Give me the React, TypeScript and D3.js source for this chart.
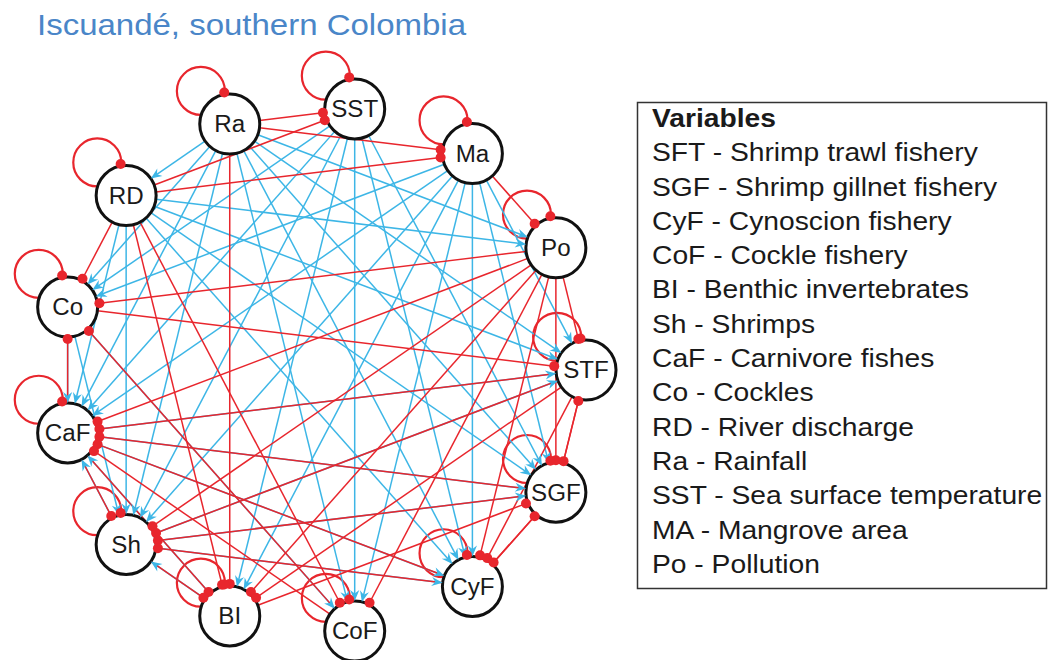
import * as d3 from 'd3';

// nodes in order around the circle, starting at the right and going counter-clockwise
const NODES = ['STF', 'Po', 'Ma', 'SST', 'Ra', 'RD', 'Co', 'CaF', 'Sh', 'BI', 'CoF', 'CyF', 'SGF'];

// positive effects (blue arrows)
const POS_EDGES: [string, string][] = [
  ['Ra', 'RD'], ['Ra', 'Co'], ['Ra', 'CaF'], ['Ra', 'Sh'], ['Ra', 'CoF'], ['Ra', 'CyF'], ['Ra', 'SGF'], ['Ra', 'STF'], ['Ra', 'Po'],
  ['RD', 'CaF'], ['RD', 'Sh'], ['RD', 'SGF'], ['RD', 'CyF'], ['RD', 'STF'], ['RD', 'Po'],
  ['SST', 'Co'], ['SST', 'CaF'], ['SST', 'Sh'], ['SST', 'BI'], ['SST', 'CoF'], ['SST', 'CyF'], ['SST', 'SGF'],
  ['Ma', 'Co'], ['Ma', 'CaF'], ['Ma', 'Sh'], ['Ma', 'BI'], ['Ma', 'CoF'], ['Ma', 'CyF'], ['Ma', 'SGF'], ['Ma', 'STF'],
  ['Co', 'CaF'], ['Co', 'CoF'], ['Co', 'Sh'],
  ['Sh', 'CaF'], ['Sh', 'STF'], ['Sh', 'SGF'], ['Sh', 'CyF'],
  ['BI', 'CaF'], ['BI', 'Sh'],
  ['CaF', 'CyF'], ['CaF', 'SGF'], ['CaF', 'STF'],
];

// negative effects (red dots)
const NEG_EDGES: [string, string][] = [
  ['Ra', 'SST'], ['Ra', 'Ma'], ['Ra', 'BI'],
  ['RD', 'SST'], ['RD', 'Ma'], ['RD', 'Co'], ['RD', 'BI'], ['RD', 'CoF'],
  ['Ma', 'Po'],
  ['Po', 'Co'], ['Po', 'CaF'], ['Po', 'Sh'], ['Po', 'BI'], ['Po', 'CoF'], ['Po', 'CyF'], ['Po', 'SGF'], ['Po', 'STF'],
  ['CaF', 'Co'], ['CaF', 'Sh'], ['CaF', 'BI'],
  ['Sh', 'BI'],
  ['STF', 'Sh'], ['STF', 'CaF'], ['STF', 'BI'], ['STF', 'SGF'], ['STF', 'CyF'],
  ['SGF', 'Sh'], ['SGF', 'CaF'], ['SGF', 'STF'], ['SGF', 'CyF'],
  ['CyF', 'CaF'], ['CyF', 'Sh'], ['CyF', 'SGF'],
  ['CoF', 'Co'], ['CoF', 'CaF'],
  ['Co', 'STF'], ['BI', 'SGF'],
];

const LEGEND_TITLE = 'Variables';
const LEGEND_ITEMS = [
  'SFT - Shrimp trawl fishery',
  'SGF - Shrimp gillnet fishery',
  'CyF - Cynoscion fishery',
  'CoF - Cockle fishery',
  'BI - Benthic invertebrates',
  'Sh - Shrimps',
  'CaF - Carnivore fishes',
  'Co - Cockles',
  'RD - River discharge',
  'Ra - Rainfall',
  'SST - Sea surface temperature',
  'MA - Mangrove area',
  'Po - Pollution',
];

const TITLE = 'Iscuandé, southern Colombia';

const RED = '#e8262d';
const BLUE = '#3db6e6';
const FONT = '"Liberation Sans", Arial, sans-serif';

export default function App() {
  const cx = 323;
  const cy = 370;
  const R = 263;
  const nodeR = 30;

  const angle = d3.scaleLinear().domain([0, NODES.length]).range([0, -2 * Math.PI]);
  const pos = new Map(
    NODES.map((n, i) => [n, { x: cx + R * Math.cos(angle(i)), y: cy + R * Math.sin(angle(i)) }])
  );

  const geom = (s: string, t: string) => {
    const a = pos.get(s)!;
    const b = pos.get(t)!;
    const dx = b.x - a.x;
    const dy = b.y - a.y;
    const len = Math.hypot(dx, dy);
    const ux = dx / len;
    const uy = dy / len;
    return {
      x1: a.x + ux * nodeR, y1: a.y + uy * nodeR,
      x2: b.x - ux * nodeR, y2: b.y - uy * nodeR,
      ux, uy,
    };
  };

  // self loops: circle up-left of node, dot where it meets the top of the node
  const loopD = 44;
  const loopR = 24;
  const loopAng = (-131 * Math.PI) / 180;
  const la = (loopD * loopD + nodeR * nodeR - loopR * loopR) / (2 * loopD);
  const lh = Math.sqrt(nodeR * nodeR - la * la);
  const lu = [Math.cos(loopAng), Math.sin(loopAng)];
  const lp = [-lu[1], lu[0]];

  const line = d3.line();

  return (
    <svg width={1051} height={660} style={{ position: 'absolute', left: 0, top: 0, background: '#fff' }}>
      <text transform="translate(37,35) scale(1.1,1)" fontFamily={FONT} fontSize={30} fill="#4a86c8">{TITLE}</text>

      {/* loops */}
      {NODES.map(n => {
        const p = pos.get(n)!;
        return (
          <circle key={'l' + n} cx={p.x + lu[0] * loopD} cy={p.y + lu[1] * loopD} r={loopR}
            fill="none" stroke={RED} strokeWidth={2.2} />
        );
      })}

      {/* edges */}
      {POS_EDGES.map(([s, t], i) => {
        const g = geom(s, t);
        return (
          <path key={'p' + i} d={line([[g.x1, g.y1], [g.x2 - g.ux * 6, g.y2 - g.uy * 6]]) ?? ''}
            stroke={BLUE} strokeWidth={1.5} fill="none" />
        );
      })}
      {NEG_EDGES.map(([s, t], i) => {
        const g = geom(s, t);
        return (
          <path key={'n' + i} d={line([[g.x1, g.y1], [g.x2, g.y2]]) ?? ''}
            stroke={RED} strokeWidth={1.5} fill="none" />
        );
      })}

      {/* nodes */}
      {NODES.map(n => {
        const p = pos.get(n)!;
        return (
          <g key={'n' + n}>
            <circle cx={p.x} cy={p.y} r={nodeR} fill="#fff" stroke="#111" strokeWidth={3} />
            <text transform={`translate(${p.x},${p.y}) scale(1.05,1)`} textAnchor="middle" dy="0.36em"
              fontFamily={FONT} fontSize={23} fill="#1a1a1a">{n}</text>
          </g>
        );
      })}

      {/* arrow heads */}
      {POS_EDGES.map(([s, t], i) => {
        const g = geom(s, t);
        const px = -g.uy;
        const py = g.ux;
        const pts = [
          [g.x2, g.y2],
          [g.x2 - g.ux * 11 + px * 4.6, g.y2 - g.uy * 11 + py * 4.6],
          [g.x2 - g.ux * 7.5, g.y2 - g.uy * 7.5],
          [g.x2 - g.ux * 11 - px * 4.6, g.y2 - g.uy * 11 - py * 4.6],
        ];
        return <polygon key={'a' + i} points={pts.map(q => q.join(',')).join(' ')} fill={BLUE} />;
      })}
      {NEG_EDGES.map(([s, t], i) => {
        const g = geom(s, t);
        return <circle key={'d' + i} cx={g.x2 - g.ux * 2} cy={g.y2 - g.uy * 2} r={5} fill={RED} />;
      })}
      {NODES.map(n => {
        const p = pos.get(n)!;
        const x = p.x + lu[0] * la + lp[0] * lh;
        const y = p.y + lu[1] * la + lp[1] * lh;
        const ox = (x - p.x) / nodeR;
        const oy = (y - p.y) / nodeR;
        return <circle key={'ld' + n} cx={x + ox * 2} cy={y + oy * 2} r={5} fill={RED} />;
      })}

      {/* legend */}
      <rect x={637.5} y={102.5} width={409} height={486} fill="none" stroke="#333" strokeWidth={1.5} />
      <g transform="translate(652,0) scale(1.13,1)" fontFamily={FONT} fontSize={25} fill="#1a1a1a">
        <text x={0} y={127} fontWeight="bold">{LEGEND_TITLE}</text>
        {LEGEND_ITEMS.map((t, i) => (
          <text key={t} x={0} y={127 + (i + 1) * 34.3}>{t}</text>
        ))}
      </g>
    </svg>
  );
}
